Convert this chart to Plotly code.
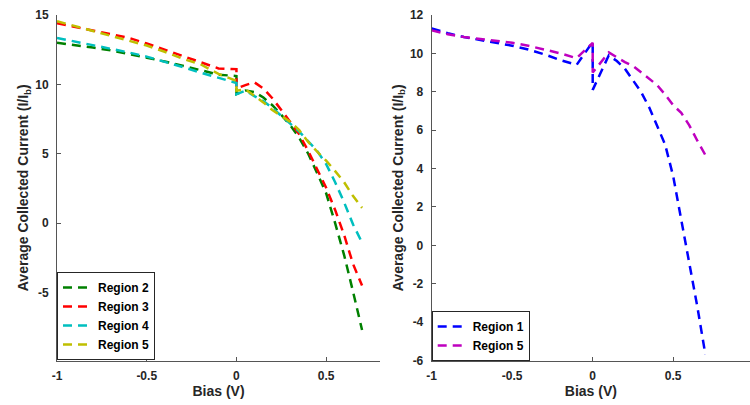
import plotly.graph_objects as go

# ---------------- data ----------------
X_LEFT = [-1.0, -0.9, -0.8, -0.7, -0.6, -0.5, -0.4, -0.3, -0.2, -0.1,
          0.0, 0.0, 0.05, 0.1, 0.15, 0.2, 0.25, 0.3, 0.35, 0.4, 0.45,
          0.5, 0.55, 0.6, 0.65, 0.7]

REGION2_L = [13.0, 12.85, 12.65, 12.45, 12.2, 11.95, 11.65, 11.35, 11.0, 10.7,
             10.6, 9.3, 9.55, 9.45, 9.05, 8.5, 7.8, 7.05, 6.15, 5.0, 3.6,
             2.15, 0.0, -2.3, -4.95, -7.7]
REGION3_L = [14.4, 14.15, 13.9, 13.65, 13.35, 12.95, 12.5, 12.05, 11.6, 11.15,
             11.1, 9.7, 9.95, 10.15, 9.7, 9.0, 8.15, 7.3, 6.4, 5.2, 3.9,
             2.55, 0.95, -0.85, -2.95, -4.5]
REGION4_L = [13.35, 13.1, 12.85, 12.6, 12.3, 12.0, 11.65, 11.25, 10.85, 10.45,
             10.1, 9.3, 9.55, 9.15, 8.8, 8.3, 7.75, 7.15, 6.6, 5.9, 5.2,
             4.25, 2.95, 1.5, -0.1, -1.4]
REGION5_L = [14.55, 14.2, 13.85, 13.5, 13.15, 12.8, 12.35, 11.85, 11.45, 10.75,
             10.25, 9.55, 9.65, 9.2, 8.7, 8.15, 7.7, 7.3, 6.7, 5.85, 5.15,
             4.5, 3.75, 2.95, 1.95, 1.1]

X_RIGHT = [-1.0, -0.9, -0.8, -0.7, -0.6, -0.5, -0.4, -0.3, -0.2, -0.1,
           0.0, 0.0, 0.1, 0.15, 0.2, 0.25, 0.3, 0.35, 0.4, 0.45,
           0.5, 0.55, 0.6, 0.65, 0.7]
REGION1_R = [11.3, 11.05, 10.85, 10.7, 10.55, 10.4, 10.2, 9.95, 9.65, 9.4,
             10.6, 8.1, 9.9, 9.6, 9.2, 8.6, 8.0, 7.2, 6.2, 5.25,
             3.6, 1.4, -0.9, -3.2, -5.7]
REGION5_R = [11.2, 11.0, 10.85, 10.75, 10.65, 10.55, 10.4, 10.2, 10.0, 9.75,
             10.55, 9.0, 10.05, 9.8, 9.55, 9.35, 9.0, 8.65, 8.35, 7.85,
             7.3, 6.9, 6.25, 5.45, 4.7]

LEFT_SERIES = [("Region 2", REGION2_L, "#008000"),
               ("Region 3", REGION3_L, "#ff0000"),
               ("Region 4", REGION4_L, "#00bfbf"),
               ("Region 5", REGION5_L, "#bfbf00")]
RIGHT_SERIES = [("Region 1", REGION1_R, "#0000ff"),
                ("Region 5", REGION5_R, "#bf00bf")]

X_TICKS = [-1, -0.5, 0, 0.5]
X_TICKTEXT = ["-1", "-0.5", "0", "0.5"]
Y_LEFT_TICKS = [-5, 0, 5, 10, 15]
Y_LEFT_TICKTEXT = ["-5", "0", "5", "10", "15"]
Y_RIGHT_TICKS = [-6, -4, -2, 0, 2, 4, 6, 8, 10, 12]
Y_RIGHT_TICKTEXT = ["-6", "-4", "-2", "0", "2", "4", "6", "8", "10", "12"]

X_TITLE = "Bias (V)"
Y_TITLE = "Average Collected Current (I/I<sub>b</sub>)"

# ---------------- figure ----------------
W, H = 750, 405
FONT = "Liberation Sans, Arial, sans-serif"
TXT = "#262626"
AX = "#555555"
DASH = "9px,6px"

fig = go.Figure()
for name, vals, col in LEFT_SERIES:
    fig.add_trace(go.Scatter(x=X_LEFT, y=vals, mode="lines", name=name,
                             line=dict(color=col, width=2.5, dash=DASH),
                             xaxis="x", yaxis="y", legend="legend"))
for name, vals, col in RIGHT_SERIES:
    fig.add_trace(go.Scatter(x=X_RIGHT, y=vals, mode="lines", name=name,
                             line=dict(color=col, width=2.5, dash=DASH),
                             xaxis="x2", yaxis="y2", legend="legend2"))

ydom = [1 - 360.5 / H, 1 - 15 / H]
tickfont = dict(family=FONT, size=12, color=TXT, weight="bold")
titlefont = dict(family=FONT, size=14, color=TXT, weight="bold")

common_x = dict(showline=True, linecolor=AX, linewidth=1, ticks="inside",
                ticklen=4, tickcolor=AX, showgrid=False, zeroline=False,
                tickfont=tickfont, automargin=False, ticklabelstandoff=4,
                tickvals=X_TICKS, ticktext=X_TICKTEXT)
common_y = dict(showline=True, linecolor=AX, linewidth=1, ticks="inside",
                ticklen=4, tickcolor=AX, showgrid=False, zeroline=False,
                tickfont=tickfont, automargin=False, ticklabelstandoff=5)

legend_font = dict(family=FONT, size=12, color="black", weight="bold")

fig.update_layout(
    width=W, height=H,
    margin=dict(l=0, r=0, t=0, b=0),
    paper_bgcolor="white", plot_bgcolor="white",
    xaxis=dict(domain=[57 / W, 380 / W], range=[-1, 0.8], anchor="y",
               title=dict(text=X_TITLE, font=titlefont, standoff=3), **common_x),
    yaxis=dict(domain=ydom, range=[-9.9, 15], anchor="x",
               tickvals=Y_LEFT_TICKS, ticktext=Y_LEFT_TICKTEXT,
               title=dict(text=Y_TITLE, font=titlefont, standoff=3), **common_y),
    xaxis2=dict(domain=[431.7 / W, 1.0], range=[-1, 0.977], anchor="y2",
                title=dict(text=X_TITLE, font=titlefont, standoff=3), **common_x),
    yaxis2=dict(domain=ydom, range=[-6, 12], anchor="x2",
                tickvals=Y_RIGHT_TICKS, ticktext=Y_RIGHT_TICKTEXT,
                title=dict(text=Y_TITLE, font=titlefont, standoff=3), **common_y),
    legend=dict(x=57 / W, y=1 - 360 / H, xanchor="left", yanchor="bottom",
                bordercolor=TXT, borderwidth=1, bgcolor="white",
                font=legend_font, itemwidth=30, tracegroupgap=0),
    legend2=dict(x=431.7 / W, y=1 - 361 / H, xanchor="left", yanchor="bottom",
                 bordercolor=TXT, borderwidth=1, bgcolor="white",
                 font=legend_font, itemwidth=30, tracegroupgap=0),
    showlegend=True,
)

fig.write_html("out.html")
